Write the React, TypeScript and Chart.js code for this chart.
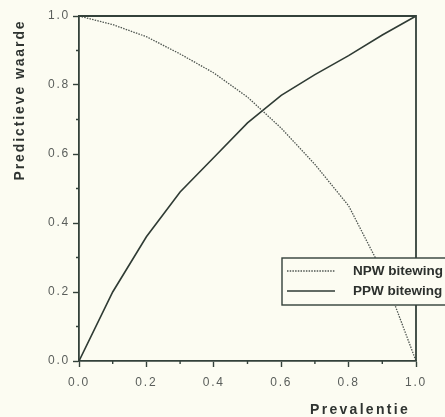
import React, { useEffect, useRef } from 'react';
import { Chart, registerables } from 'chart.js';

Chart.register(...registerables);

const prevalence = [0, 0.1, 0.2, 0.3, 0.4, 0.5, 0.6, 0.7, 0.8, 0.9, 1.0];
const npwBitewing = [1.0, 0.975, 0.94, 0.89, 0.835, 0.765, 0.675, 0.57, 0.45, 0.26, 0.0];
const ppwBitewing = [0.0, 0.2, 0.36, 0.49, 0.59, 0.69, 0.77, 0.83, 0.885, 0.945, 1.0];
const seriesLabels = ['NPW bitewing', 'PPW bitewing'];
const xTitle = 'Prevalentie';
const yTitle = 'Predictieve waarde';
const minorTicks = [0.1, 0.3, 0.5, 0.7, 0.9];

const BG = '#fcfcf2';
const INK = '#33413a';
const TICK_TEXT = '#5a5e5b';

const decorPlugin = {
  id: 'decor',
  beforeDraw(chart: any) {
    const ctx = chart.ctx;
    ctx.save();
    ctx.fillStyle = BG;
    ctx.fillRect(0, 0, chart.width, chart.height);
    ctx.restore();
    ctx.letterSpacing = '1.8px';
  },
  afterDraw(chart: any) {
    const ctx = chart.ctx;
    const { left, right, top, bottom } = chart.chartArea;
    const xs = chart.scales.x;
    const ys = chart.scales.y;
    ctx.save();
    ctx.letterSpacing = '0px';
    // top and right frame
    ctx.strokeStyle = INK;
    ctx.lineWidth = 1.8;
    ctx.beginPath();
    ctx.moveTo(left, top);
    ctx.lineTo(right, top);
    ctx.lineTo(right, bottom);
    ctx.stroke();
    // minor ticks
    ctx.lineWidth = 1.4;
    ctx.beginPath();
    minorTicks.forEach((v) => {
      const px = xs.getPixelForValue(v);
      ctx.moveTo(px, bottom);
      ctx.lineTo(px, bottom + 3);
      const py = ys.getPixelForValue(v);
      ctx.moveTo(left, py);
      ctx.lineTo(left - 3, py);
    });
    ctx.stroke();

    // legend box
    const bx = 282, by = 258, bw = 170, bh = 47;
    ctx.fillStyle = BG;
    ctx.fillRect(bx, by, bw, bh);
    ctx.strokeStyle = INK;
    ctx.lineWidth = 1.4;
    ctx.strokeRect(bx, by, bw, bh);
    const rows = [271, 291];
    chart.data.datasets.forEach((ds: any, i: number) => {
      const y = rows[i];
      ctx.save();
      ctx.strokeStyle = ds.borderColor;
      ctx.lineWidth = ds.borderWidth;
      ctx.setLineDash(ds.borderDash || []);
      ctx.beginPath();
      ctx.moveTo(287, y);
      ctx.lineTo(335, y);
      ctx.stroke();
      ctx.restore();
      ctx.fillStyle = '#2c302d';
      ctx.font = 'bold 13.5px "Liberation Sans", Arial, sans-serif';
      ctx.letterSpacing = '0px';
      ctx.textAlign = 'left';
      ctx.textBaseline = 'middle';
      ctx.fillText(ds.label, 353, y);
    });

    // axis titles
    ctx.fillStyle = '#2f3431';
    ctx.font = 'bold 14px "Liberation Sans", Arial, sans-serif';
    ctx.letterSpacing = '2.3px';
    ctx.textAlign = 'center';
    ctx.textBaseline = 'middle';
    ctx.fillText(xTitle, 360, 410);
    ctx.save();
    ctx.translate(20, 100);
    ctx.rotate(-Math.PI / 2);
    ctx.letterSpacing = '1.9px';
    ctx.fillText(yTitle, 0, 0);
    ctx.restore();
    ctx.restore();
    ctx.letterSpacing = '0px';
  },
};

export default function App() {
  const canvasRef = useRef<HTMLCanvasElement | null>(null);

  useEffect(() => {
    document.body.style.margin = '0';
    document.body.style.background = BG;
    const canvas = canvasRef.current;
    if (!canvas) return;
    const chart = new Chart(canvas, {
      type: 'line',
      data: {
        datasets: [
          {
            label: seriesLabels[0],
            data: prevalence.map((x, i) => ({ x, y: npwBitewing[i] })),
            borderColor: '#4f5651',
            borderWidth: 1.3,
            borderDash: [1.5, 1.2],
            pointRadius: 0,
            tension: 0,
          },
          {
            label: seriesLabels[1],
            data: prevalence.map((x, i) => ({ x, y: ppwBitewing[i] })),
            borderColor: '#2f3b34',
            borderWidth: 1.6,
            pointRadius: 0,
            tension: 0,
          },
        ],
      },
      options: {
        animation: false,
        responsive: false,
        devicePixelRatio: 1,
        layout: { padding: { top: 16, right: 29, left: 0, bottom: 0 } },
        plugins: {
          legend: { display: false },
          tooltip: { enabled: false },
        },
        scales: {
          x: {
            type: 'linear',
            min: 0,
            max: 1,
            afterFit: (s: any) => {
              s.height = 56;
            },
            ticks: {
              stepSize: 0.2,
              autoSkip: false,
              maxRotation: 0,
              padding: 8,
              color: TICK_TEXT,
              font: { size: 12, family: '"Liberation Sans", Arial, sans-serif' },
              callback: (v: any) => Number(v).toFixed(1),
            },
            grid: {
              drawOnChartArea: false,
              drawTicks: true,
              tickLength: 6,
              tickColor: INK,
              tickWidth: 1.4,
            },
            border: { color: INK, width: 1.8 },
          },
          y: {
            type: 'linear',
            min: 0,
            max: 1,
            afterFit: (s: any) => {
              s.width = 79;
            },
            ticks: {
              stepSize: 0.2,
              autoSkip: false,
              padding: 3,
              color: TICK_TEXT,
              font: { size: 12, family: '"Liberation Sans", Arial, sans-serif' },
              callback: (v: any) => Number(v).toFixed(1),
            },
            grid: {
              drawOnChartArea: false,
              drawTicks: true,
              tickLength: 6,
              tickColor: INK,
              tickWidth: 1.4,
            },
            border: { color: INK, width: 1.8 },
          },
        },
      },
      plugins: [decorPlugin],
    } as any);
    return () => {
      chart.destroy();
    };
  }, []);

  return (
    <div style={{ position: 'fixed', left: 0, top: 0, width: 445, height: 417, background: BG }}>
      <canvas ref={canvasRef} width={445} height={417} style={{ display: 'block' }} />
    </div>
  );
}
